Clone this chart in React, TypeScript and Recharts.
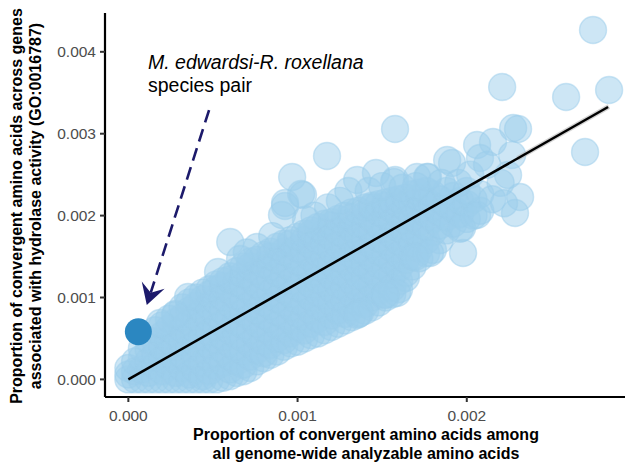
import {
  ScatterChart,
  Scatter,
  XAxis,
  YAxis,
  ReferenceLine,
  ReferenceDot,
} from 'recharts';

// all proportions below are written in units of 1e-3

// dense core of the cloud: [genome-wide proportion, hydrolase proportions at that x]
const coreColumns: [number, number[]][] = [
  [0.0, [0, 0.06, 0.14]],
  [0.04, [0, 0.1, 0.22]],
  [0.08, [0, 0.12, 0.26, 0.38]],
  [0.12, [0, 0.08, 0.22, 0.36, 0.48]],
  [0.16, [0, 0.16, 0.3, 0.46, 0.6]],
  [0.2, [0, 0.1, 0.24, 0.4, 0.54, 0.66]],
  [0.24, [0, 0.16, 0.32, 0.48, 0.62, 0.74]],
  [0.28, [0, 0.08, 0.24, 0.4, 0.56, 0.7, 0.8]],
  [0.32, [0, 0.14, 0.3, 0.46, 0.62, 0.76, 0.88]],
  [0.36, [0, 0.06, 0.22, 0.38, 0.54, 0.7, 0.84, 0.94]],
  [0.4, [0, 0.12, 0.28, 0.44, 0.6, 0.76, 0.9, 1.0]],
  [0.44, [0, 0.04, 0.2, 0.36, 0.52, 0.68, 0.84, 0.98, 1.06]],
  [0.48, [0, 0.1, 0.26, 0.42, 0.58, 0.74, 0.9, 1.04, 1.1]],
  [0.52, [0, 0.16, 0.32, 0.48, 0.64, 0.8, 0.96, 1.1, 1.16]],
  [0.56, [0.02, 0.2, 0.36, 0.52, 0.68, 0.84, 1.0, 1.14, 1.2]],
  [0.6, [0.04, 0.12, 0.28, 0.44, 0.6, 0.76, 0.92, 1.08, 1.22, 1.26]],
  [0.64, [0.08, 0.22, 0.38, 0.54, 0.7, 0.86, 1.02, 1.18, 1.32]],
  [0.68, [0.1, 0.18, 0.34, 0.5, 0.66, 0.82, 0.98, 1.14, 1.28, 1.38]],
  [0.72, [0.14, 0.28, 0.44, 0.6, 0.76, 0.92, 1.08, 1.24, 1.38, 1.44]],
  [0.76, [0.22, 0.36, 0.52, 0.68, 0.84, 1.0, 1.16, 1.32, 1.46]],
  [0.8, [0.26, 0.32, 0.46, 0.62, 0.78, 0.94, 1.1, 1.26, 1.4, 1.52]],
  [0.84, [0.3, 0.42, 0.58, 0.74, 0.9, 1.06, 1.22, 1.38, 1.5, 1.56]],
  [0.88, [0.34, 0.5, 0.66, 0.82, 0.98, 1.14, 1.3, 1.46, 1.62]],
  [0.92, [0.4, 0.48, 0.62, 0.78, 0.94, 1.1, 1.26, 1.42, 1.56, 1.66]],
  [0.96, [0.44, 0.56, 0.72, 0.88, 1.04, 1.2, 1.36, 1.52, 1.66, 1.7]],
  [1.0, [0.46, 0.64, 0.8, 0.96, 1.12, 1.28, 1.44, 1.6, 1.74]],
  [1.04, [0.5, 0.6, 0.76, 0.92, 1.08, 1.24, 1.4, 1.56, 1.7, 1.78]],
  [1.08, [0.54, 0.68, 0.84, 1.0, 1.16, 1.32, 1.48, 1.64, 1.78, 1.82]],
  [1.12, [0.56, 0.74, 0.9, 1.06, 1.22, 1.38, 1.54, 1.7, 1.86]],
  [1.16, [0.6, 0.7, 0.86, 1.02, 1.18, 1.34, 1.5, 1.66, 1.8, 1.9]],
  [1.2, [0.64, 0.78, 0.94, 1.1, 1.26, 1.42, 1.58, 1.74, 1.88, 1.92]],
  [1.24, [0.68, 0.84, 1.0, 1.16, 1.32, 1.48, 1.64, 1.8, 1.96]],
  [1.28, [0.72, 0.8, 0.96, 1.12, 1.28, 1.44, 1.6, 1.76, 1.9, 2.0]],
  [1.32, [0.76, 0.88, 1.04, 1.2, 1.36, 1.52, 1.68, 1.84, 1.98, 2.04]],
  [1.36, [0.8, 0.94, 1.1, 1.26, 1.42, 1.58, 1.74, 1.9, 2.06]],
  [1.4, [0.84, 0.92, 1.08, 1.24, 1.4, 1.56, 1.72, 1.88, 2.02, 2.1]],
  [1.44, [0.88, 1.0, 1.16, 1.32, 1.48, 1.64, 1.8, 1.96, 2.1, 2.12]],
  [1.48, [0.94, 1.08, 1.24, 1.4, 1.56, 1.72, 1.88, 2.04, 2.14]],
  [1.52, [1.0, 1.04, 1.2, 1.36, 1.52, 1.68, 1.84, 2.0, 2.12, 2.16]],
  [1.56, [1.04, 1.12, 1.28, 1.44, 1.6, 1.76, 1.92, 2.08, 2.18]],
  [1.6, [1.1, 1.2, 1.36, 1.52, 1.68, 1.84, 2.0, 2.14, 2.2]],
  [1.64, [1.24, 1.3, 1.46, 1.62, 1.78, 1.94, 2.1, 2.22]],
  [1.68, [1.38, 1.5, 1.66, 1.82, 1.98, 2.14, 2.26]],
  [1.72, [1.48, 1.6, 1.76, 1.92, 2.08, 2.22, 2.28]],
  [1.76, [1.54, 1.7, 1.86, 2.02, 2.18, 2.3]],
  [1.8, [1.58, 1.8, 1.96, 2.12, 2.26]],
  [1.84, [1.7, 1.88, 2.04, 2.2]],
  [1.88, [1.82, 1.98, 2.14, 2.3]],
  [1.92, [1.9, 2.08, 2.24]],
  [1.96, [1.84, 2.02, 2.18]],
  [2.0, [1.96, 2.14, 2.3]],
  [2.04, [2.0, 2.2]],
  [2.08, [2.06, 2.26]],
];

// scattered species pairs around the cloud
const outerPairs: [number, number][] = [
  [2.746, 4.266], [2.209, 3.57], [2.587, 3.448], [2.841, 3.534],
  [1.576, 3.057], [1.174, 2.728], [2.274, 3.07], [2.303, 3.057],
  [2.061, 2.862], [2.155, 2.899], [2.699, 2.777], [2.268, 2.74],
  [2.078, 2.703], [1.913, 2.643], [1.884, 2.679], [1.765, 2.471],
  [1.576, 2.435], [2.244, 2.496], [2.315, 2.228], [2.285, 2.032],
  [2.061, 2.007], [1.972, 1.849], [1.978, 1.543], [1.783, 1.543],
  [1.694, 1.494], [1.588, 1.055], [1.517, 1.031], [1.369, 0.811],
  [1.352, 0.786], [0.968, 2.471], [1.021, 2.264], [0.926, 2.117],
  [1.352, 2.435], [1.463, 2.52], [1.57, 2.41], [1.706, 2.471],
  [1.771, 2.471], [0.602, 1.677], [0.76, 1.617], [0.53, 1.311],
  [0.353, 1.006], [0.276, 0.786], [0.187, 0.689], [0.926, 2.154],
  [0.908, 2.007], [1.032, 2.251], [1.1, 2.0], [1.18, 2.1],
  [1.25, 2.18], [1.3, 2.3], [1.42, 2.3], [1.5, 2.36],
  [1.62, 2.34], [1.7, 2.36], [1.85, 2.4], [1.95, 2.4],
  [2.02, 2.5], [2.12, 2.62], [2.2, 2.4], [2.15, 2.2],
  [2.22, 2.15], [1.05, 1.95], [0.85, 1.75], [0.7, 1.55], [0.66, 1.47],
];

// M. edwardsi - R. roxellana
const highlightPair: [number, number] = [0.059, 0.582];

// linear fit across the observed range, and the part where its band shows
const fitLine: [number, number][] = [[0, 0], [2.835, 3.326]];
const fitBand: [number, number][] = [[2.3, 2.698], [2.84, 3.332]];

// annotation arrow (tail, head) and label anchor
const arrowTail: [number, number] = [0.477, 3.289];
const arrowHead: [number, number] = [0.109, 0.908];
const noteAnchor: [number, number] = [0.116, 3.79];

const xTicks = [0, 0.001, 0.002];
const yTicks = [0, 0.001, 0.002, 0.003, 0.004];

const CLOUD = '#9ccdec';
const HIGHLIGHT = '#2b87c1';
const NAVY = '#1c1a6b';
const FONT = '"Liberation Sans", Arial, Helvetica, sans-serif';

const k = (v: number) => v / 1000;
const toPoints = (pairs: [number, number][]) => pairs.map(([x, y]) => ({ x: k(x), y: k(y) }));

const cloudData = [
  ...coreColumns.flatMap(([x, ys]) => ys.map((y) => ({ x: k(x), y: k(y) }))),
  ...toPoints(outerPairs),
];
const highlightData = toPoints([highlightPair]);
const fitData = toPoints(fitLine);
const bandData = toPoints(fitBand);

const renderBubble = (props: any) => (
  <circle
    cx={props.cx}
    cy={props.cy}
    r={13.5}
    fill={CLOUD}
    fillOpacity={0.5}
    stroke={CLOUD}
    strokeOpacity={0.5}
    strokeWidth={1.4}
  />
);

const renderHighlight = (props: any) => (
  <circle cx={props.cx} cy={props.cy} r={13.5} fill={HIGHLIGHT} />
);

const renderNothing = () => <g />;

const renderArrow = (props: any) => {
  const { x1, y1, x2, y2 } = props;
  const dx = x2 - x1;
  const dy = y2 - y1;
  const len = Math.sqrt(dx * dx + dy * dy) || 1;
  const ux = dx / len;
  const uy = dy / len;
  const px = -uy;
  const py = ux;
  const back = 21;
  const half = 12;
  const notch = 13;
  const bx = x2 - ux * back;
  const by = y2 - uy * back;
  const nx = x2 - ux * notch;
  const ny = y2 - uy * notch;
  return (
    <g>
      <line
        x1={x1}
        y1={y1}
        x2={nx}
        y2={ny}
        stroke={NAVY}
        strokeWidth={2.6}
        strokeDasharray="13 7"
      />
      <polygon
        points={`${x2},${y2} ${bx + px * half},${by + py * half} ${nx},${ny} ${bx - px * half},${by - py * half}`}
        fill={NAVY}
      />
    </g>
  );
};

const renderNote = (props: any) => (
  <g fontFamily={FONT} fill="#000">
    <text x={props.cx} y={props.cy} fontSize={19.5} fontStyle="italic">
      M. edwardsi-R. roxellana
    </text>
    <text x={props.cx} y={props.cy + 22.5} fontSize={19.5}>
      species pair
    </text>
  </g>
);

const XTitle = (props: any) => {
  const { x, width } = props.viewBox;
  const cx = x + width / 2 + 1;
  return (
    <g fontFamily={FONT} fontWeight="bold" fontSize={16} fill="#000" textAnchor="middle">
      <text x={cx} y={440}>Proportion of convergent amino acids among</text>
      <text x={cx} y={459}>all genome-wide analyzable amino acids</text>
    </g>
  );
};

const YTitle = (props: any) => {
  const { y, height } = props.viewBox;
  const cy = y + height / 2 + 1;
  return (
    <g fontFamily={FONT} fontWeight="bold" fontSize={16} fill="#000" textAnchor="middle">
      <text x={22} y={cy} transform={`rotate(-90 22 ${cy})`}>
        Proportion of convergent amino acids across genes
      </text>
      <text x={41} y={cy} transform={`rotate(-90 41 ${cy})`}>
        associated with hydrolase activity (GO:0016787)
      </text>
    </g>
  );
};

const fmt = (v: number) => v.toFixed(3);

export default function App() {
  return (
    <div style={{ position: 'absolute', left: 0, top: 0, width: 626, height: 464, background: '#fff' }}>
      <ScatterChart width={626} height={464} margin={{ top: 13, right: 1, bottom: 0, left: 0 }}>
        <XAxis
          type="number"
          dataKey="x"
          domain={[-0.000138, 0.002935]}
          allowDataOverflow
          ticks={xTicks}
          tickFormatter={fmt}
          height={67}
          axisLine={{ stroke: '#000', strokeWidth: 2.2 }}
          tickLine={{ stroke: '#333', strokeWidth: 2 }}
          tickSize={5}
          tickMargin={8}
          tick={{ fill: '#4d4d4d', fontSize: 15.5, fontFamily: FONT }}
          label={{ content: XTitle }}
        />
        <YAxis
          type="number"
          dataKey="y"
          domain={[-0.000215, 0.004474]}
          allowDataOverflow
          ticks={yTicks}
          tickFormatter={fmt}
          width={105}
          axisLine={{ stroke: '#000', strokeWidth: 2.2 }}
          tickLine={{ stroke: '#333', strokeWidth: 2 }}
          tickSize={5}
          tickMargin={4}
          tick={{ fill: '#4d4d4d', fontSize: 15.5, fontFamily: FONT }}
          label={{ content: YTitle }}
        />
        <Scatter data={cloudData} shape={renderBubble} isAnimationActive={false} />
        <Scatter
          data={bandData}
          shape={renderNothing}
          line={{ stroke: '#b8b8b8', strokeWidth: 5, strokeOpacity: 0.6 }}
          isAnimationActive={false}
        />
        <Scatter
          data={fitData}
          shape={renderNothing}
          line={{ stroke: '#000', strokeWidth: 2.5 }}
          isAnimationActive={false}
        />
        <Scatter data={highlightData} shape={renderHighlight} isAnimationActive={false} />
        <ReferenceLine
          segment={[
            { x: k(arrowTail[0]), y: k(arrowTail[1]) },
            { x: k(arrowHead[0]), y: k(arrowHead[1]) },
          ]}
          shape={renderArrow}
        />
        <ReferenceDot x={k(noteAnchor[0])} y={k(noteAnchor[1])} shape={renderNote} />
      </ScatterChart>
    </div>
  );
}
